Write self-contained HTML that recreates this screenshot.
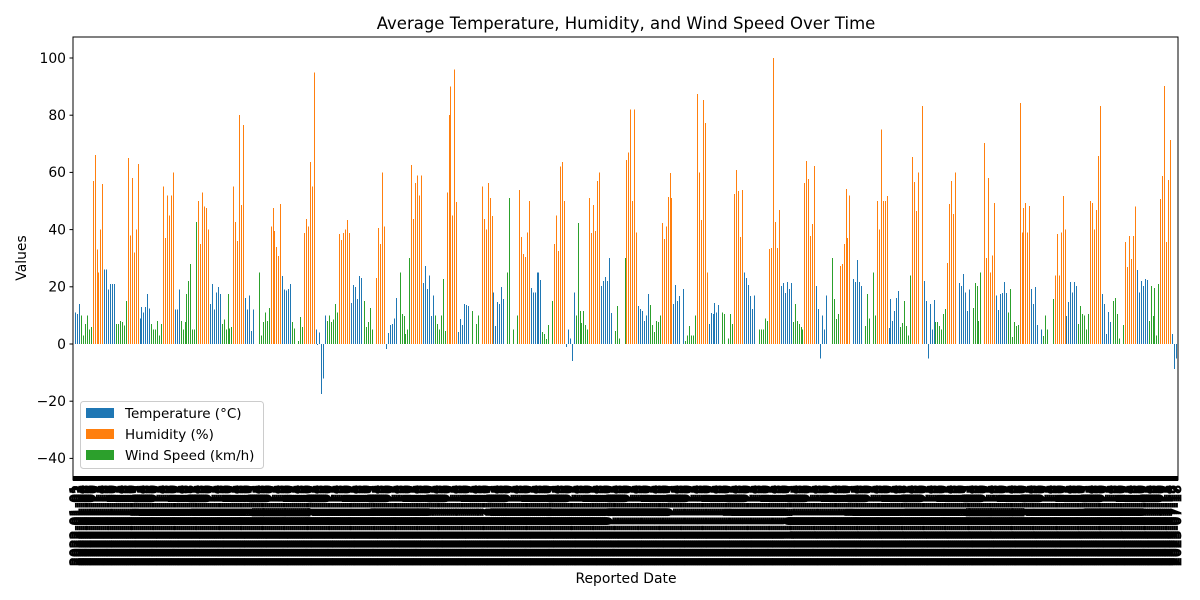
<!DOCTYPE html>
<html><head><meta charset="utf-8">
<style>
html,body{margin:0;padding:0;background:#fff;}
svg{display:block;font-family:"DejaVu Sans","Liberation Sans",sans-serif;}
</style></head>
<body>
<svg id="chart" width="1200" height="600" viewBox="0 0 1200 600" xmlns="http://www.w3.org/2000/svg">
<rect x="0" y="0" width="1200" height="600" fill="#fff"/>
<text x="626" y="29" text-anchor="middle" font-size="16.5" fill="#000">Average Temperature, Humidity, and Wind Speed Over Time</text>
<g id="bars" shape-rendering="crispEdges"></g>
<g id="xticks"></g>
<g id="yticks"></g>
<rect x="73" y="37" width="1105" height="443" fill="none" stroke="#000" stroke-width="1"/>
<rect x="73" y="476" width="1105" height="5" fill="#000"/>
<text x="626" y="583" text-anchor="middle" font-size="13.9">Reported Date</text>
<text x="26" y="258" text-anchor="middle" font-size="13.9" transform="rotate(-90 26 258)">Values</text>
<g>
<rect x="80.5" y="401.5" width="183" height="67" rx="3" fill="#fff" fill-opacity="0.8" stroke="#ccc"/>
<g>
<rect x="86" y="408" width="28" height="10" fill="#1f77b4"/>
<text x="125" y="418" font-size="13.5">Temperature (°C)</text></g>
<g>
<rect x="86" y="429" width="28" height="10" fill="#ff7f0e"/>
<text x="125" y="439" font-size="13.5">Humidity (%)</text></g>
<g>
<rect x="86" y="450" width="28" height="10" fill="#2ca02c"/>
<text x="125" y="460" font-size="13.5">Wind Speed (km/h)</text></g>
</g>
</svg>
<script>
const seriesNames = ['Temperature (°C)','Humidity (%)','Wind Speed (km/h)'];
const seriesKeys = ['T','H','W'];
const seriesColors = {T:'#1f77b4',H:'#ff7f0e',W:'#2ca02c'};
const yTicks = [-40,-20,0,20,40,60,80,100];
// runs of consecutive bars: series key + values (null = no bar)
const runs = [
['T',[11,10.5,14]],['W',[10,3,7,10,5,6]],['H',[57,66,33,25,40,56]],['T',[26,26,19,21,21,21]],
['W',[7,7,8,7.7,6.5,15]],['H',[65,38,58,32,40,63]],['T',[9,13,11,13,17.5,12.5]],
['W',[7,5,5,8,3,7]],['H',[55,37,52,45,52,60]],['T',[12,12,19]],
['W',[8,5,7.7,17.5,22,28,5,5,42.7]],['H',[50,35,53,48,47.5,40]],['T',[14,21,12,18,20,17.5]],
['W',[7,8.5,5,17.5,5.5,6]],['H',[55,42.7,36,80,48.6,76.6]],['T',[16,12,17,4.5,12,null,null]],
['W',[25,3,7.7,11,8,12.6]],['H',[41,47.5,39.5,34,30.8,49]],['T',[23.8,19,18.7,19.3,21]],
['W',[7.7,5.5,null,1,9.4,6]],['H',[38.8,43.7,41,63.6,55,95]],['T',[5,-0.3,4,-17.5,-12,10]],
['W',[8,10,7.7,8.5,14,11]],['H',[38.5,36.4,38.8,40,43.4,38.8]],['T',[14.3,20.6,20,15.7,23.8,23,null]],
['W',[15,6,7.7,12.6,5,null]],['H',[23,40.6,35,60,41]],['T',[-1.7,3.8,6.6,7,9,16,null]],
['W',[25,10.5,9.8,3.5,5,30]],['H',[62.6,43.7,56.3,59,52,59]],['T',[21.3,27.3,19.2,24,9.8,17]],
['W',[10,7,5,10,22.7,4.5]],['H',[53,80,90,45,96,49.6]],['T',[4.2,8.7,6.6,14,13.6,13.3,null]],
['W',[11.5,null,7,10,null]],['H',[55,43.7,40,56.3,51,44.8]],['T',[18,6.3,14.7,14,20,15.7,null]],
['W',[25,51,null,5,null,10]],['H',[53.8,37.4,31.5,30.4,39,50]],['T',[19.6,18,18,25,25,22.4]],
['W',[4.2,3.5,1.7,6.6,null,15]],['H',[35,45,32.5,62,63.6,50]],['T',[-1,5,2,-6,18]],
['W',[10,42.3,11.5,7.3,11.5,6.6,5]],['H',[51,38.8,48.6,39.5,57,60]],['T',[20.3,22,23.4,22,30,10.8,null]],
['W',[4.5,13.3,2,null,null,30]],['H',[64.3,67,82,50,82,39]],['T',[13.3,12.2,11.5,8,10,17.5]],
['W',[13.6,6.6,4.2,8,7.7,10]],['H',[42.3,36.7,41,51.4,59.8,51]],['T',[14,20.6,15,16.8,null,19.2]],
['W',[1,3,6.3,3,3,10]],['H',[87.4,60,43.4,85.3,77.3,25]],['T',[7,10.8,10.5,14.3,11,13.6,null]],
['W',[11,10.5,null,2,10.5,7]],['H',[52.4,60.8,53.5,37.4,53.8]],['T',[25,23,20.6,16.8,12.2,17,null,null]],
['W',[5,5,5,9,8]],['H',[33.2,33.6,100,42.7,33.6,46.9]],['T',[20.3,21.3,17.8,21.7,19.2,21.3]],
['W',[7.7,14,8,7,6,5]],['H',[56.3,64,57.7,37.8,42,62.2]],['T',[20.3,12.2,-5,10,5,17,null,null]],
['W',[30,15.7,8.7,10.5]],['H',[27.3,28,35,54.2,37,52,null]],['T',[22.7,21.7,29.4,21.7,20.3,null]],
['W',[6.3,17.5,9,null,25,10]],['H',[50,40,75,50,50,51.7]],['T',[5.6,15.7,8,11.5,16,18.5]],
['W',[6,7.3,15,6.3,3,24]],['H',[65.4,56.6,46.5,60,null,83.2]],['T',[22,15,-5,14,5,15.4]],
['W',[7.7,7.7,6.3,5,10.5,12.2]],['H',[28.3,49,57,45.5,60,null]],['T',[21.3,20.3,24.5,18,11.5,19,null]],
['W',[12.6,21.3,20.3,8,25,null]],['H',[70.3,30,58,25,31,49.3]],['T',[17,11.9,17.5,17.8,21.7,17.8]],
['W',[11,19.2,2.4,7.7,6.3,6.6]],['H',[84.3,39,47.5,49.3,39,48.3]],['T',[19.2,14,20,6.6,null,5]],
['W',[2.8,10,5,null,null,15.7]],['H',[24,38.5,24,39,51.7,40]],['T',[9.8,14.7,21.7,18,21.7,20.3]],
['W',[7,13.3,10.5,10,5,10.5]],['H',[50,49.3,40,46.9,65.7,83.2]],['T',[17.5,14,3.5,11.2,7.7,null]],
['W',[15,16,10.5,2,null,6.6]],['H',[35.7,27,37.8,29.7,37.8,48]],['T',[25.9,18,22,20.3,22.7,22.4]],
['W',[8,20.3,9.8,19.6,3,21]],['H',[50.7,58.7,90.2,35.7,57.3,71.3]],['T',[3.5,-8.7,-5]]
];
const values = [], seriesOf = [];
runs.forEach(r => r[1].forEach(v => { values.push(v); seriesOf.push(r[0]); }));
const N = values.length;
const categories = [];
const d0 = new Date(Date.UTC(2022,0,1));
for (let i=0;i<N;i++){ const d=new Date(d0.getTime()+i*86400000); categories.push(d.toISOString().slice(0,10)); }

const X0=73, X1=1178, Y0=344, PPU=2.86;
const first=75, last=1176;
function xScale(i){ return first + i*(last-first)/(N-1); }
function yScale(v){ return Y0 - v*PPU; }
const NS='http://www.w3.org/2000/svg';
const bars=document.getElementById('bars');
values.forEach((v,i)=>{
  if(v===null) return;
  const r=document.createElementNS(NS,'rect');
  const y=Math.min(yScale(v),yScale(0)), h=Math.abs(yScale(v)-yScale(0));
  r.setAttribute('x',Math.round(xScale(i)));
  r.setAttribute('y',y.toFixed(2));
  r.setAttribute('width','1');
  r.setAttribute('height',Math.max(h,0.5).toFixed(2));
  r.setAttribute('fill',seriesColors[seriesOf[i]]);
  
  
  bars.appendChild(r);
});
const yt=document.getElementById('yticks');
yTicks.forEach(t=>{
  const y=yScale(t);
  const l=document.createElementNS(NS,'line');
  l.setAttribute('x1',X0-3.5);l.setAttribute('x2',X0);l.setAttribute('y1',y);l.setAttribute('y2',y);l.setAttribute('stroke','#000');
  
  
  yt.appendChild(l);
  const tx=document.createElementNS(NS,'text');
  tx.setAttribute('x',X0-7);tx.setAttribute('y',y+4.8);tx.setAttribute('text-anchor','end');tx.setAttribute('font-size','13.9');
  tx.textContent=(t<0?'\u2212'+(-t):t);
  
  
  yt.appendChild(tx);
});
const xt=document.getElementById('xticks');
categories.forEach((c,i)=>{
  const x=xScale(i);
  const tx=document.createElementNS(NS,'text');
  tx.setAttribute('x',0);tx.setAttribute('y',0);
  tx.setAttribute('transform','translate('+(x+5)+',485) rotate(-90)');
  tx.setAttribute('text-anchor','end');tx.setAttribute('font-size','13.9');
  tx.setAttribute('stroke','#000');tx.setAttribute('stroke-width','0.8');
  tx.setAttribute('textLength','81');tx.setAttribute('lengthAdjust','spacingAndGlyphs');
  tx.textContent=c;
  
  
  xt.appendChild(tx);
});
</script>
</body></html>
